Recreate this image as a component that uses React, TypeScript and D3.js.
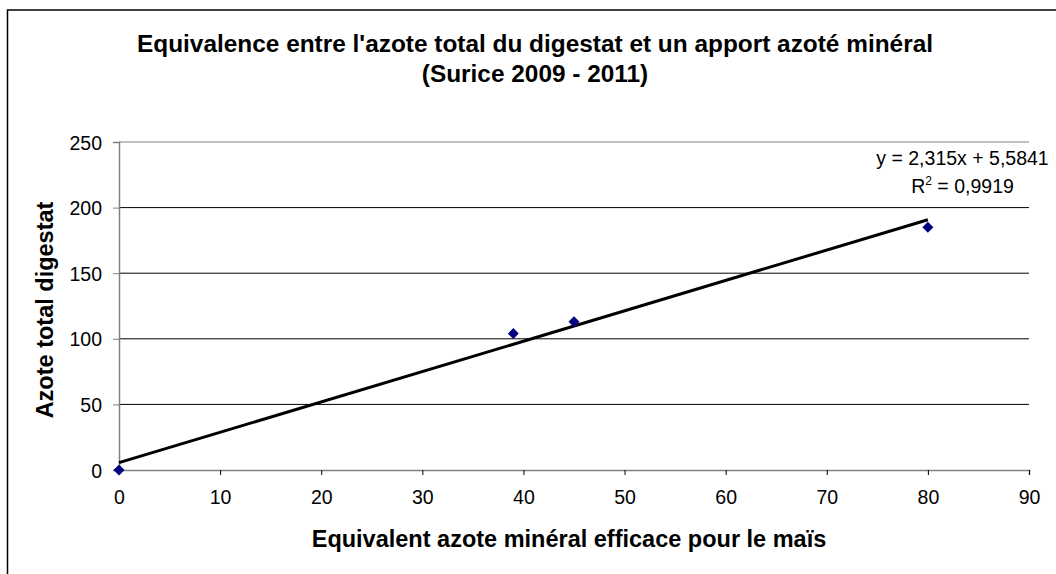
import React, { useEffect, useRef } from "react";
import * as d3 from "d3";

// mineral N equivalent (x) vs total N in digestate (y)
const xValues = [0, 39, 45, 80];
const yValues = [0, 104, 113, 185];
const xTicks = [0, 10, 20, 30, 40, 50, 60, 70, 80, 90];
const yTicks = [0, 50, 100, 150, 200, 250];
const titleLines = [
  "Equivalence entre l'azote total du digestat et un apport azoté minéral",
  "(Surice 2009 - 2011)",
];
const xTitle = "Equivalent azote minéral efficace pour le maïs";
const yTitle = "Azote total digestat";

const App = () => {
  const ref = useRef<SVGSVGElement>(null);

  useEffect(() => {
    const width = 1056, height = 574;
    const font = "'Liberation Sans', Arial, sans-serif";
    const svg = d3.select(ref.current);
    svg.selectAll("*").remove();

    svg.append("rect").attr("width", width).attr("height", height).attr("fill", "#fff");
    // chart area border (runs off the right and bottom of the picture)
    svg.append("rect")
      .attr("x", 7.5).attr("y", 10)
      .attr("width", 1200).attr("height", 800)
      .attr("fill", "none").attr("stroke", "#000").attr("stroke-width", 1.5);

    const x = d3.scaleLinear().domain([0, 90]).range([119, 1029]);
    const y = d3.scaleLinear().domain([0, 250]).range([470, 142]);

    // gridlines
    svg.append("g").selectAll("line")
      .data(yTicks.filter(t => t > 0))
      .enter().append("line")
      .attr("x1", x(0)).attr("x2", x(90))
      .attr("y1", d => y(d)).attr("y2", d => y(d))
      .attr("stroke", d => (d === 250 ? "#808080" : "#000"))
      .attr("stroke-width", 1);

    // y axis
    const yAxis = svg.append("g").attr("transform", `translate(${x(0)},0)`)
      .call(d3.axisLeft(y).tickValues(yTicks).tickSize(6).tickPadding(11).tickFormat(d3.format("d")));
    yAxis.select(".domain").attr("stroke", "#808080").attr("stroke-width", 1.5);
    yAxis.selectAll(".tick line").attr("stroke", "#808080");
    yAxis.selectAll("text")
      .attr("font-family", font).attr("font-size", 19.5).attr("fill", "#000")
      .attr("dy", "0.36em");

    // x axis
    const xAxis = svg.append("g").attr("transform", `translate(0,${y(0)})`)
      .call(d3.axisBottom(x).tickValues(xTicks).tickSize(5).tickPadding(15).tickFormat(d3.format("d")));
    xAxis.select(".domain").attr("stroke", "#808080").attr("stroke-width", 1.5);
    xAxis.selectAll(".tick line").attr("stroke", "#000");
    xAxis.selectAll("text")
      .attr("font-family", font).attr("font-size", 19.5).attr("fill", "#000");

    // least squares trendline
    const mx = d3.mean(xValues)!, my = d3.mean(yValues)!;
    const sxy = d3.sum(xValues, (v, i) => (v - mx) * (yValues[i] - my));
    const sxx = d3.sum(xValues, v => (v - mx) ** 2);
    const slope = sxy / sxx, intercept = my - slope * mx;
    const [x0, x1] = d3.extent(xValues) as [number, number];
    svg.append("line")
      .attr("x1", x(x0)).attr("y1", y(slope * x0 + intercept))
      .attr("x2", x(x1)).attr("y2", y(slope * x1 + intercept))
      .attr("stroke", "#000").attr("stroke-width", 3);

    // markers
    const diamond = d3.symbol().type(d3.symbolSquare).size(60);
    svg.append("g").selectAll("path")
      .data(xValues.map((v, i) => [v, yValues[i]]))
      .enter().append("path")
      .attr("d", diamond())
      .attr("transform", d => `translate(${x(d[0])},${y(d[1])}) rotate(45)`)
      .attr("fill", "#000080");

    // equation
    const eq = svg.append("g").attr("font-family", font).attr("font-size", 19.5).attr("text-anchor", "middle");
    eq.append("text").attr("x", 962.5).attr("y", 165).text("y = 2,315x + 5,5841");
    const r2 = eq.append("text").attr("x", 962.5).attr("y", 193);
    r2.append("tspan").text("R");
    r2.append("tspan").attr("font-size", 12).attr("dy", -8).text("2");
    r2.append("tspan").attr("dy", 8).text(" = 0,9919");

    // titles
    svg.append("g").selectAll("text")
      .data(titleLines).enter().append("text")
      .attr("x", 535).attr("y", (d, i) => 51.5 + i * 30.5)
      .attr("text-anchor", "middle")
      .attr("font-family", font).attr("font-size", 24.4).attr("font-weight", "bold")
      .text(d => d);

    svg.append("text")
      .attr("x", 569).attr("y", 547)
      .attr("text-anchor", "middle")
      .attr("font-family", font).attr("font-size", 23.5).attr("font-weight", "bold")
      .text(xTitle);

    svg.append("text")
      .attr("transform", `translate(53,310) rotate(-90)`)
      .attr("text-anchor", "middle")
      .attr("font-family", font).attr("font-size", 23.5).attr("font-weight", "bold")
      .text(yTitle);
  }, []);

  return (
    <svg ref={ref} width={1056} height={574}
      style={{ position: "absolute", left: 0, top: 0, display: "block" }} />
  );
};

export default App;
